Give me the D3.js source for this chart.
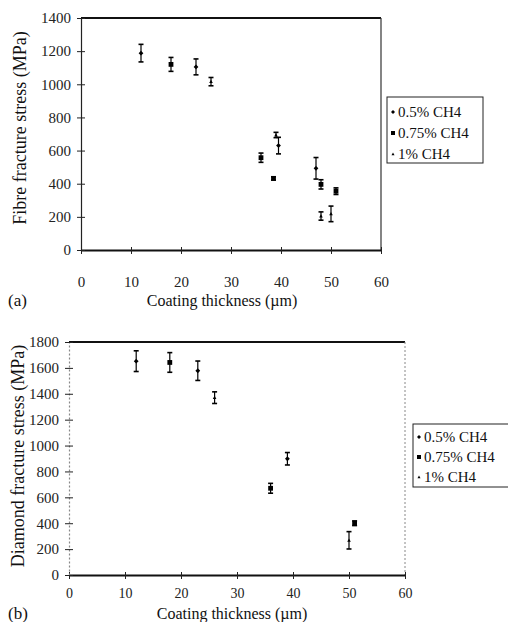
<!DOCTYPE html>
<html><head><meta charset="utf-8">
<script src="https://cdn.jsdelivr.net/npm/d3@7"></script>
<style>body{margin:0;background:#fff}svg{display:block}</style>
</head><body>
<svg id="c" width="508" height="622"></svg>
<script>
// ---------- data ----------
const seriesNames = ["0.5% CH4", "0.75% CH4", "1% CH4"];
const xTicks = [0, 10, 20, 30, 40, 50, 60];
const yTicksA = [0, 200, 400, 600, 800, 1000, 1200, 1400];
const yTicksB = [0, 200, 400, 600, 800, 1000, 1200, 1400, 1600, 1800];

// (a) fibre fracture stress
const aThick05 = [12, 23, 39.5, 47];
const aStress05 = [1188, 1105, 630, 493];
const aErr05 = [53, 48, 50, 65];
const aThick075 = [18, 36, 38.5, 48, 51];
const aStress075 = [1120, 557, 432, 396, 355];
const aErr075 = [42, 28, 10, 28, 20];
const aThick1 = [26, 39, 48, 50];
const aStress1 = [1016, 694, 205, 218];
const aErr1 = [25, 16, 25, 47];

// (b) diamond fracture stress
const bThick05 = [12, 23, 39];
const bStress05 = [1652, 1578, 898];
const bErr05 = [80, 75, 48];
const bThick075 = [18, 36, 51];
const bStress075 = [1642, 670, 400];
const bErr075 = [76, 38, 18];
const bThick1 = [26, 50];
const bStress1 = [1370, 268];
const bErr1 = [45, 67];

const zip = (t, s, e) => t.map((d, i) => ({x: d, y: s[i], e: e[i]}));

const svg = d3.select("#c");
svg.append("rect").attr("width", 508).attr("height", 622).attr("fill", "#fff");

const serif = "'Liberation Serif', 'Times New Roman', serif";

function marker(g, type, cx, cy, s) {
  if (type === 0) {
    g.append("path").attr("d", `M${cx},${cy - s}L${cx + s},${cy}L${cx},${cy + s}L${cx - s},${cy}Z`).attr("fill", "#000");
  } else if (type === 1) {
    g.append("rect").attr("x", cx - s).attr("y", cy - s).attr("width", 2 * s).attr("height", 2 * s).attr("fill", "#000");
  } else {
    g.append("path").attr("d", `M${cx},${cy - s}L${cx + s},${cy + s * 0.8}L${cx - s},${cy + s * 0.8}Z`).attr("fill", "#000");
  }
}

function panel(cfg) {
  const x = d3.scaleLinear().domain([0, 60]).range([cfg.left, cfg.right]);
  const y = d3.scaleLinear().domain([0, cfg.ymax]).range([cfg.bottom, cfg.top]);
  const g = svg.append("g");

  // frame
  g.append("line").attr("x1", cfg.left).attr("x2", cfg.right).attr("y1", cfg.top).attr("y2", cfg.top)
    .attr("stroke", "#111").attr("stroke-width", 2);
  g.append("line").attr("x1", cfg.right).attr("x2", cfg.right).attr("y1", cfg.top).attr("y2", cfg.bottom)
    .attr("stroke", cfg.rightColor).attr("stroke-width", cfg.rightW).attr("stroke-dasharray", cfg.rightDash);

  // axes
  const xAxis = d3.axisBottom(x).tickValues(xTicks).tickSize(0).tickPadding(cfg.xPad).tickFormat(d3.format("d"));
  const gx = g.append("g").attr("transform", `translate(0,${cfg.bottom})`).call(xAxis);
  gx.select(".domain").attr("stroke", "#111").attr("stroke-width", 2);
  gx.selectAll(".tick text").attr("font-family", serif).attr("font-size", cfg.xTickFs).attr("fill", "#222");
  gx.selectAll(".tick").append("line").attr("y1", -3).attr("y2", 4).attr("stroke", "#222");

  const yAxis = d3.axisLeft(y).tickValues(cfg.yTicks).tickSize(0).tickPadding(cfg.yPad).tickFormat(d3.format("d"));
  const gy = g.append("g").attr("transform", `translate(${cfg.left},0)`).call(yAxis);
  gy.select(".domain").attr("stroke", cfg.leftColor).attr("stroke-width", 1.2).attr("stroke-dasharray", cfg.leftDash);
  gy.selectAll(".tick text").attr("font-family", serif).attr("font-size", 15).attr("fill", "#222");
  gy.selectAll(".tick").append("line").attr("x1", -4).attr("x2", 4).attr("stroke", "#222");

  // points with error bars
  cfg.data.forEach((ser, si) => {
    ser.forEach(d => {
      const cx = x(d.x), y1 = y(d.y + d.e), y2 = y(d.y - d.e);
      g.append("line").attr("x1", cx).attr("x2", cx).attr("y1", y1).attr("y2", y2).attr("stroke", "#000").attr("stroke-width", 1.2);
      [y1, y2].forEach(yy => g.append("line").attr("x1", cx - 2.5).attr("x2", cx + 2.5).attr("y1", yy).attr("y2", yy)
        .attr("stroke", "#000").attr("stroke-width", 1.6));
      marker(g, si, cx, y(d.y), si === 2 ? 1.8 : 2.4);
    });
  });

  // axis titles
  g.append("text").attr("x", cfg.xTitleX).attr("y", cfg.xTitleY).attr("text-anchor", "middle")
    .attr("font-family", serif).attr("font-size", cfg.xTitleFs).attr("fill", "#111").text("Coating thickness (\u00b5m)");
  g.append("text").attr("transform", `translate(${cfg.yTitleX},${cfg.yTitleY}) rotate(-90)`).attr("text-anchor", "middle")
    .attr("font-family", serif).attr("font-size", 18).attr("fill", "#111").text(cfg.yTitle);
  g.append("text").attr("x", 8).attr("y", cfg.xTitleY).attr("font-family", serif).attr("font-size", 17)
    .attr("fill", "#111").text(cfg.label);

  // legend
  const L = cfg.legend;
  g.append("rect").attr("x", L.x).attr("y", L.y).attr("width", L.w).attr("height", L.h)
    .attr("fill", "#fff").attr("stroke", "#222").attr("stroke-width", 1);
  seriesNames.forEach((n, i) => {
    const yy = L.y + L.first + i * L.step;
    marker(g, i, L.x + 6, yy - 5, i === 2 ? 1.5 : 2);
    g.append("text").attr("x", L.x + 11).attr("y", yy).attr("font-family", serif).attr("font-size", L.fs)
      .attr("fill", "#111").text(n);
  });
}

panel({
  left: 81, right: 381, top: 18, bottom: 250, ymax: 1400, yTicks: yTicksA,
  rightColor: "#333", rightW: 1.2, rightDash: null, leftColor: "#222", leftDash: null,
  xPad: 26, xTickFs: 15, yPad: 10,
  data: [zip(aThick05, aStress05, aErr05), zip(aThick075, aStress075, aErr075), zip(aThick1, aStress1, aErr1)],
  xTitleX: 222, xTitleY: 306, xTitleFs: 16, yTitleX: 26, yTitleY: 128,
  yTitle: "Fibre fracture stress (MPa)", label: "(a)",
  legend: {x: 387, y: 97, w: 96, h: 66, first: 20, step: 21, fs: 15}
});

panel({
  left: 69, right: 405, top: 342, bottom: 575, ymax: 1800, yTicks: yTicksB,
  rightColor: "#888", rightW: 1, rightDash: "2,2", leftColor: "#888", leftDash: "2,2",
  xPad: 13, xTickFs: 14, yPad: 10,
  data: [zip(bThick05, bStress05, bErr05), zip(bThick075, bStress075, bErr075), zip(bThick1, bStress1, bErr1)],
  xTitleX: 232, xTitleY: 619, xTitleFs: 16, yTitleX: 24, yTitleY: 456,
  yTitle: "Diamond fracture stress (MPa)", label: "(b)",
  legend: {x: 413, y: 424, w: 98, h: 63, first: 18, step: 20, fs: 15}
});
</script>
</body></html>
